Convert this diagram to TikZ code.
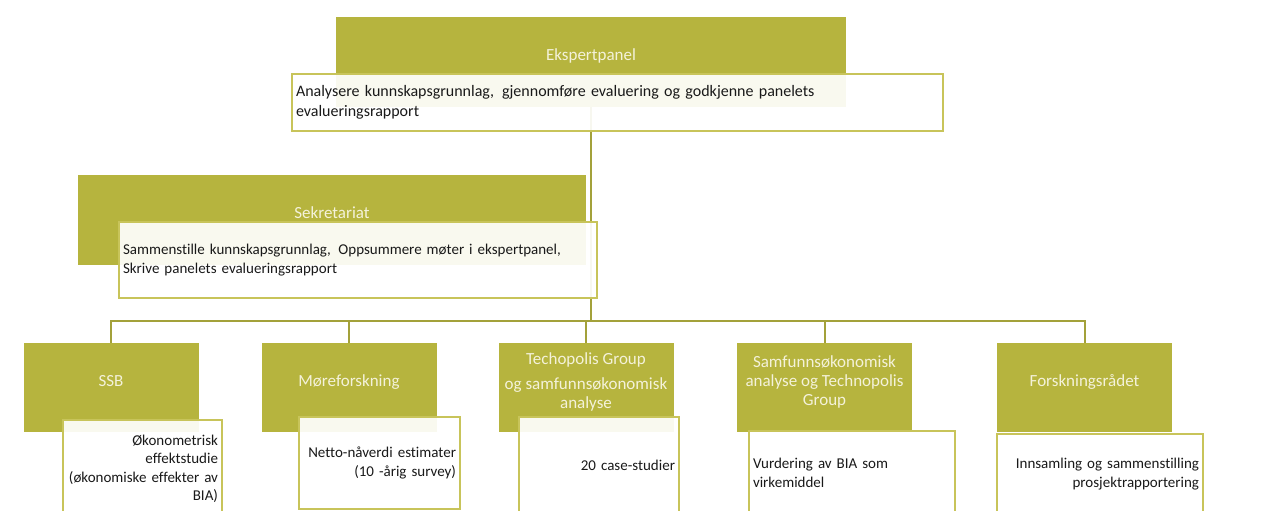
\documentclass[tikz,border=0pt]{standalone}
\usepackage{fontspec}
\setmainfont{Carlito}[Ligatures=NoCommon]
\usepackage{tikz}
\definecolor{panelgreen}{HTML}{B6B43E}
\definecolor{headtext}{HTML}{F4F2DA}
\definecolor{taskedge}{HTML}{C8C45A}
\definecolor{linkline}{HTML}{A3A13A}

\begin{document}
\begin{tikzpicture}[x=1pt, y=-1pt,
    head/.style={rectangle, fill=panelgreen, text=headtext, align=center, text depth=14pt, minimum width=175pt, minimum height=89pt, font=\fontsize{17}{19}\selectfont},
    task/.style={rectangle, draw=taskedge, line width=2pt, fill=white, fill opacity=0.92, text opacity=1, text=black!90, inner xsep=4pt, font=\fontsize{15}{18.5}\selectfont},
    link/.style={draw=linkline, line width=2pt}]
    \useasboundingbox (0,0) rectangle (1261,511);

    \node[head, minimum width=510pt, minimum height=90pt] (ekspert) at (591,62) {Ekspertpanel};
    \node[head, minimum width=508pt, minimum height=90pt] (sekr) at (332,220) {Sekretariat};
    \coordinate (bus) at (591,321);
    \draw[link] (ekspert.south) -- (bus);

    \node[task, minimum width=651pt, minimum height=57pt, text width=643pt, align=left, font=\fontsize{16}{20}\selectfont] (ekspertTask) at (617.5,102.5)
        {Analysere kunnskapsgrunnlag,\, gjennomføre evaluering og godkjenne panelets\\evalueringsrapport};
    \node[task, minimum width=478pt, minimum height=76pt, text width=470pt, align=left] (sekrTask) at (358,260)
        {Sammenstille kunnskapsgrunnlag,\, Oppsummere møter i ekspertpanel,\\Skrive panelets evalueringsrapport};

    \node[head] (ssb) at (111,387.5) {SSB};
    \node[head] (more) at (349,387.5) {Møreforskning};
    \node[head] (techo) at (586,387.5) {Techopolis Group\\[6pt]og samfunnsøkonomisk\\analyse};
    \node[head] (samf) at (824.5,387.5) {Samfunnsøkonomisk\\analyse og Technopolis\\Group};
    \node[head] (forsk) at (1084.5,387.5) {Forskningsrådet};

    \foreach \n in {ssb, more, techo, samf, forsk}
        \draw[link] (bus) -| (\n.north);

    \node[task, minimum width=159pt, minimum height=98pt, text width=151pt, align=right] (ssbTask) at (142.5,469)
        {Økonometrisk\\effektstudie\\(økonomiske effekter av\\BIA)};
    \node[task, minimum width=161pt, minimum height=92pt, text width=153pt, align=right] (moreTask) at (379.5,463)
        {Netto-nåverdi estimater\\(10 -årig survey)};
    \node[task, minimum width=160pt, minimum height=96pt, text width=152pt, align=right] (techoTask) at (599,465)
        {20 case-studier};
    \node[task, minimum width=206pt, minimum height=84pt, text width=198pt, align=left] (samfTask) at (852,473)
        {Vurdering av BIA som\\virkemiddel};
    \node[task, minimum width=206pt, minimum height=80pt, text width=198pt, align=right] (forskTask) at (1100,474)
        {Innsamling og sammenstilling\\prosjektrapportering};
\end{tikzpicture}
\end{document}
